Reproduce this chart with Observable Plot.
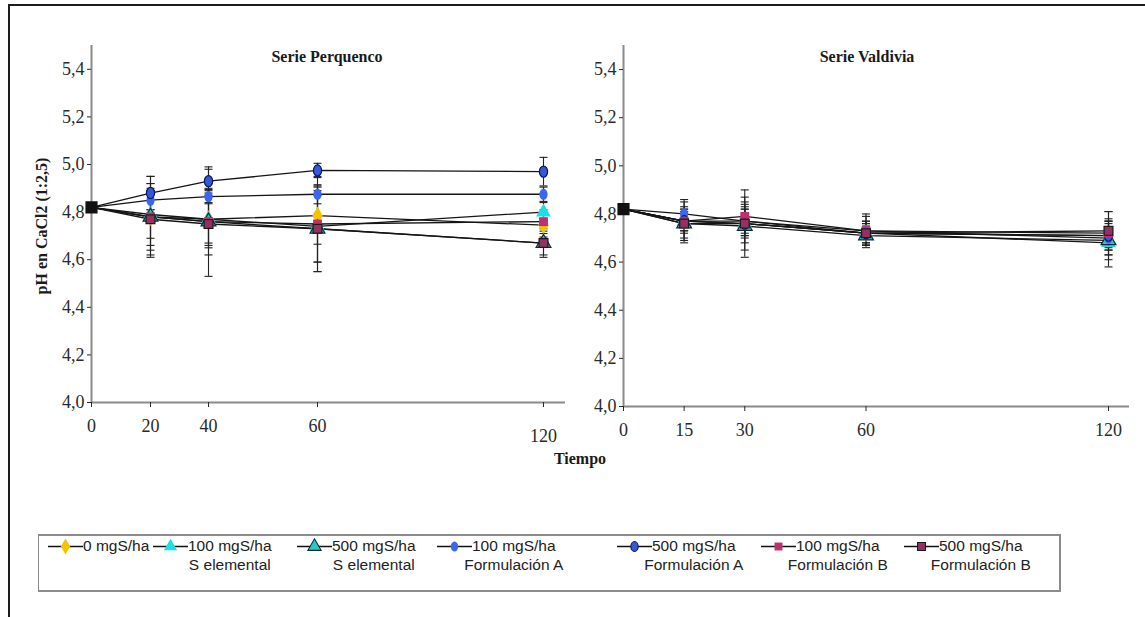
<!DOCTYPE html>
<html>
<head>
<meta charset="utf-8">
<script src="https://cdn.jsdelivr.net/npm/d3@7"></script>
<script src="https://cdn.jsdelivr.net/npm/@observablehq/plot@0.6"></script>
<style>
  body { margin: 0; background: #fff; }
  #wrap { position: relative; width: 1145px; height: 617px; overflow: hidden; background: #fff;
          font-family: "Liberation Serif", "Times New Roman", serif; color: #1a1a1a; }
  .frameTop { position: absolute; left: 8px; top: 4px; right: 0; border-top: 2.5px solid #1c1c1c; }
  .frameLeft { position: absolute; left: 8px; top: 4px; bottom: 0; border-left: 2.5px solid #1c1c1c; }
  .panel { position: absolute; top: 0; }
  .lbl { position: absolute; font-weight: bold; white-space: nowrap; transform: translate(-50%, -50%); }
  #legendBox { position: absolute; left: 38px; top: 534px; width: 1020px; height: 54px;
               border: 2px solid #8c8c8c; border-left-width: 1.5px; }
  .item { position: absolute; top: 537px; display: flex; align-items: flex-start;
          font-family: "Liberation Sans", Arial, sans-serif; font-size: 15.5px; color: #222; }
  .item .txt { position: relative; line-height: 18.5px; white-space: nowrap; }
  .item .l2 { position: absolute; left: 50%; top: 18.5px; transform: translateX(-50%); white-space: nowrap; }
</style>
</head>
<body>
<div id="wrap">
  <div class="frameTop"></div>
  <div class="frameLeft"></div>
  <div id="left" class="panel" style="left:0px"></div>
  <div id="right" class="panel" style="left:575px"></div>
  <div class="lbl" style="left:327px; top:57px; font-size:16px;">Serie Perquenco</div>
  <div class="lbl" style="left:867px; top:57px; font-size:16px;">Serie Valdivia</div>
  <div class="lbl" style="left:42px; top:226px; font-size:16px; transform: translate(-50%, -50%) rotate(-90deg);">pH en CaCl2 (1:2,5)</div>
  <div class="lbl" style="left:580px; top:459px; font-size:16px;">Tiempo</div>
  <div id="legendBox"></div>
  <div id="legend"></div>
</div>
<script>
// ---------- data ----------
const seriesLabel1 = ["0 mgS/ha", "100 mgS/ha", "500 mgS/ha", "100 mgS/ha", "500 mgS/ha", "100 mgS/ha", "500 mgS/ha"];
const seriesLabel2 = ["", "S elemental", "S elemental", "Formulación A", "Formulación A", "Formulación B", "Formulación B"];

const perquencoDays = [0, 20, 40, 60, 120];
const valdiviaDays = [0, 15, 30, 60, 120];

const perquencoPH = [
  [4.82, 4.78, 4.77, 4.785, 4.745],
  [4.82, 4.79, 4.77, 4.74, 4.80],
  [4.82, 4.78, 4.76, 4.73, 4.67],
  [4.82, 4.85, 4.865, 4.875, 4.875],
  [4.82, 4.88, 4.93, 4.975, 4.97],
  [4.82, 4.78, 4.76, 4.75, 4.76],
  [4.82, 4.77, 4.75, 4.73, 4.67]
];
const perquencoSD = [
  [0, 0.12, 0.10, 0.12, 0.05],
  [0, 0.10, 0.12, 0.15, 0.04],
  [0, 0.14, 0.14, 0.18, 0.06],
  [0, 0.04, 0.03, 0.04, 0.03],
  [0, 0.07, 0.05, 0.03, 0.06],
  [0, 0.17, 0.23, 0.20, 0.05],
  [0, 0.15, 0.09, 0.14, 0.05]
];
const valdiviaPH = [
  [4.82, 4.77, 4.77, 4.72, 4.71],
  [4.82, 4.77, 4.76, 4.72, 4.68],
  [4.82, 4.76, 4.75, 4.71, 4.69],
  [4.82, 4.80, 4.77, 4.73, 4.70],
  [4.82, 4.77, 4.76, 4.72, 4.71],
  [4.82, 4.77, 4.79, 4.73, 4.72],
  [4.82, 4.76, 4.76, 4.72, 4.73]
];
const valdiviaSD = [
  [0, 0.05, 0.06, 0.04, 0.06],
  [0, 0.04, 0.08, 0.05, 0.10],
  [0, 0.06, 0.10, 0.04, 0.08],
  [0, 0.05, 0.05, 0.06, 0.07],
  [0, 0.09, 0.14, 0.04, 0.05],
  [0, 0.04, 0.08, 0.07, 0.09],
  [0, 0.07, 0.06, 0.05, 0.08]
];
const yTickValues = [4.0, 4.2, 4.4, 4.6, 4.8, 5.0, 5.2, 5.4];
const yDomain = [4.0, 5.5];

// ---------- styles ----------
const ellipse = {
  draw(ctx, size) {
    const r = Math.sqrt(size / Math.PI), rx = r * 0.82, ry = r * 1.12, k = 0.5523;
    ctx.moveTo(0, -ry);
    ctx.bezierCurveTo(k * rx, -ry, rx, -k * ry, rx, 0);
    ctx.bezierCurveTo(rx, k * ry, k * rx, ry, 0, ry);
    ctx.bezierCurveTo(-k * rx, ry, -rx, k * ry, -rx, 0);
    ctx.bezierCurveTo(-rx, -k * ry, -k * rx, -ry, 0, -ry);
    ctx.closePath();
  }
};
const cap = {
  draw(ctx, size) {
    const r = Math.sqrt(size / Math.PI);
    ctx.moveTo(-r, 0); ctx.lineTo(r, 0);
  }
};
const seriesStyle = [
  { symbol: d3.symbolDiamond, fill: "#f5c400", stroke: "none", r: 5.5 },
  { symbol: d3.symbolTriangle, fill: "#1de0e6", stroke: "none", r: 5.5 },
  { symbol: d3.symbolTriangle, fill: "#2cc7c2", stroke: "#0d2a33", r: 5.5 },
  { symbol: ellipse, fill: "#3a67f0", stroke: "none", r: 5 },
  { symbol: ellipse, fill: "#3558d6", stroke: "#0b1660", r: 5 },
  { symbol: d3.symbolSquare, fill: "#c0306e", stroke: "none", r: 5 },
  { symbol: d3.symbolSquare, fill: "#963060", stroke: "#1a1a1a", r: 5 }
];
const fmt = d => d.toFixed(1).replace(".", ",");

function panel(cfg) {
  const rows = [];
  cfg.means.forEach((vals, i) => vals.forEach((v, j) =>
    rows.push({ series: i, t: cfg.days[j], v, e: cfg.sd[i][j] })));
  const withErr = rows.filter(d => d.e > 0);
  const marks = [
    Plot.ruleY([yDomain[0]], { stroke: "#8a8a8a", strokeWidth: 2 }),
    Plot.ruleX([cfg.days[0]], { stroke: "#8a8a8a", strokeWidth: 2 }),
    Plot.axisY({ ticks: yTickValues, tickSize: 4, tickPadding: 3, tickFormat: fmt, label: null, color: "#2a2a2a" }),
    Plot.axisX({ ticks: cfg.ticksMain, tickSize: 5, tickPadding: 12, tickFormat: d => String(d), label: null, color: "#2a2a2a" })
  ];
  if (cfg.ticksLow.length)
    marks.push(Plot.axisX({ ticks: cfg.ticksLow, tickSize: 5, tickPadding: 22, tickFormat: d => String(d), label: null, color: "#2a2a2a" }));
  marks.push(
    Plot.line(rows, { x: "t", y: "v", z: "series", stroke: "#151515", strokeWidth: 1.3 }),
    Plot.ruleX(withErr, { x: "t", y1: d => d.v - d.e, y2: d => d.v + d.e, stroke: "#222", strokeWidth: 1.1 }),
    Plot.dot(withErr, { x: "t", y: d => d.v - d.e, symbol: cap, r: 4, fill: "none", stroke: "#222", strokeWidth: 1.1 }),
    Plot.dot(withErr, { x: "t", y: d => d.v + d.e, symbol: cap, r: 4, fill: "none", stroke: "#222", strokeWidth: 1.1 })
  );
  seriesStyle.forEach((s, i) => {
    marks.push(Plot.dot(rows.filter(d => d.series === i && d.t > 0), {
      x: "t", y: "v", symbol: s.symbol, r: s.r, fill: s.fill, stroke: s.stroke, strokeWidth: 1.2
    }));
  });
  marks.push(Plot.dot(rows.filter(d => d.t === 0 && d.series === 0), {
    x: "t", y: "v", symbol: "square", r: 6, fill: "#111", stroke: "#111"
  }));
  return Plot.plot({
    width: cfg.width, height: cfg.height,
    marginLeft: cfg.mL, marginRight: cfg.mR, marginTop: cfg.mT, marginBottom: cfg.mB,
    style: { fontFamily: "'Liberation Serif', 'Times New Roman', serif", fontSize: "18px", background: "transparent", overflow: "visible" },
    x: { type: "linear", domain: cfg.xDomain, range: cfg.xRange },
    y: { domain: yDomain, range: [cfg.height - cfg.mB, cfg.mT] },
    marks
  });
}

document.getElementById("left").appendChild(panel({
  days: perquencoDays, means: perquencoPH, sd: perquencoSD,
  width: 590, height: 470, mL: 91, mR: 25, mT: 45, mB: 68,
  xDomain: perquencoDays, xRange: [91, 150, 208, 317, 543],
  ticksMain: [0, 20, 40, 60], ticksLow: [120]
}));
document.getElementById("right").appendChild(panel({
  days: valdiviaDays, means: valdiviaPH, sd: valdiviaSD,
  width: 570, height: 470, mL: 48, mR: 16, mT: 45, mB: 64,
  xDomain: [0, 120], xRange: [48, 533],
  ticksMain: valdiviaDays, ticksLow: []
}));

// ---------- legend ----------
const legendX = [48, 153, 297, 437, 617, 761, 904];
const legend = document.getElementById("legend");
seriesStyle.forEach((s, i) => {
  const item = document.createElement("div");
  item.className = "item";
  item.style.left = legendX[i] + "px";
  const size = Math.PI * s.r * s.r * 0.8;
  const path = d3.symbol(s.symbol, size)();
  item.innerHTML =
    `<svg width="35" height="19" style="flex:none"><line x1="0" x2="35" y1="9.5" y2="9.5" stroke="#111" stroke-width="1.3"/>` +
    `<path d="${path}" transform="translate(17.5,9.5)" fill="${s.fill}" stroke="${s.stroke}" stroke-width="1.1"/></svg>` +
    `<div class="txt">${seriesLabel1[i]}${seriesLabel2[i] ? `<div class="l2">${seriesLabel2[i]}</div>` : ""}</div>`;
  legend.appendChild(item);
});
</script>
</body>
</html>
